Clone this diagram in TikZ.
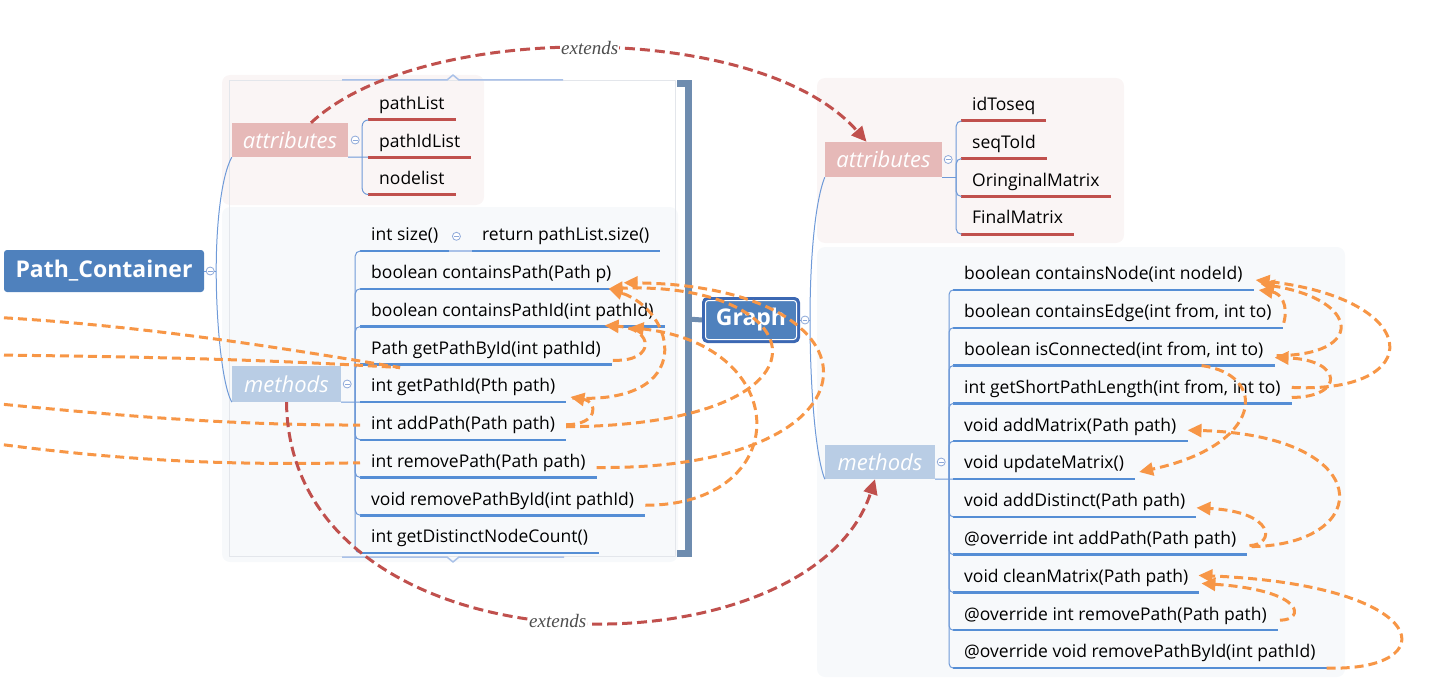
\documentclass[tikz,border=0pt]{standalone}
\usepackage{fontspec}
\setmainfont{Open Sans}
\newfontfamily\relfont{Liberation Serif}
\usetikzlibrary{arrows.meta}
\definecolor{topicblue}{HTML}{4F81BD}
\definecolor{graphedge}{HTML}{3C68B3}
\definecolor{attrpink}{HTML}{E6B9B8}
\definecolor{methblue}{HTML}{B9CDE5}
\definecolor{attrpanel}{HTML}{FAF5F5}
\definecolor{methpanel}{HTML}{F7F9FB}
\definecolor{ulred}{HTML}{C0504D}
\definecolor{ulblue}{HTML}{558ED5}
\definecolor{branchc}{HTML}{6F9AD8}
\definecolor{relorange}{HTML}{F79646}
\definecolor{extred}{HTML}{C0504D}
\definecolor{extgray}{HTML}{4D4D4D}
\definecolor{bracketc}{HTML}{6E8CAF}
\definecolor{foldc}{HTML}{8EA9D9}
\definecolor{framec}{HTML}{E3E6EB}
\definecolor{framebl}{HTML}{A9C1E8}
\begin{document}
\begin{tikzpicture}[x=1pt,y=-1pt,line join=round,
  topic/.style={fill=topicblue,text=white,inner sep=0pt,font=\fontsize{23}{26}\selectfont\bfseries},
  cat/.style={text=white,inner sep=0pt,font=\fontsize{22}{24}\selectfont\itshape},
  item/.style={anchor=south west,inner xsep=11pt,inner ysep=6pt,text height=13pt,text depth=4pt,font=\fontsize{17.5}{20}\selectfont},
  bline/.style={draw=ulblue,line width=2.5pt},
  rline/.style={draw=ulred,line width=3pt},
  branch/.style={draw=branchc,line width=1pt},
  fold/.style={circle,draw=foldc,fill=white,line width=0.8pt,minimum size=8pt,inner sep=0pt,
    path picture={\draw[foldc,line width=0.8pt] ([xshift=1.6pt]path picture bounding box.west) -- ([xshift=-1.6pt]path picture bounding box.east);}},
  rel/.style={draw=relorange,line width=3pt,dash pattern=on 9pt off 5pt,-{Triangle[length=14pt,width=13pt]}},
  ext/.style={draw=extred,line width=3pt,dash pattern=on 10pt off 5pt,-{Triangle[length=15pt,width=14pt]}},
  extlabel/.style={fill=white,inner sep=1pt,text=extgray,font=\relfont\itshape\fontsize{19}{21}\selectfont}]
\useasboundingbox (0,0) rectangle (1431,687);
% panels
\fill[attrpanel,rounded corners=8pt] (222,75) rectangle (484,205);
\fill[methpanel,rounded corners=8pt] (222,207) rectangle (678,562);
\fill[attrpanel,rounded corners=8pt] (817,78) rectangle (1124,243);
\fill[methpanel,rounded corners=8pt] (817,247) rectangle (1345,677);
\draw[framec,line width=1pt] (229,81) rectangle (675,556);
\draw[framebl,line width=1.5pt] (342,80) -- (447,80) -- (453,75) -- (459,80) -- (563,80);
\draw[framebl,line width=1.5pt] (342,557) -- (447,557) -- (453,562) -- (459,557) -- (564,557);

% topics
\node[topic,minimum width=200pt,minimum height=42pt,rounded corners=3pt] (pc) at (104,271) {Path\_Container};
\node[topic,draw=graphedge,line width=3pt,minimum width=95pt,minimum height=43pt,rounded corners=4pt] (graph) at (751,320) {Graph};
\draw[white,line width=1pt,rounded corners=3pt] ([shift={(3.5,-3.5)}]graph.south west) rectangle ([shift={(-3.5,3.5)}]graph.north east);
\draw[bracketc,line width=7pt,line join=miter] (677,84) -- (688,84) -- (688,553.5) -- (677,553.5);
\draw[bracketc,line width=5pt] (688,319) -- (graph.west);

\node[cat,fill=attrpink,minimum width=116pt,minimum height=34pt] (lattr) at (290,140) {attributes};
\node[cat,fill=methblue,minimum width=109pt,minimum height=36pt] (lmeth) at (286.5,384) {methods};
\node[cat,fill=attrpink,minimum width=117pt,minimum height=35pt] (rattr) at (883.5,159.5) {attributes};
\node[cat,fill=methblue,minimum width=110pt,minimum height=34pt] (rmeth) at (880,462) {methods};

% children
\foreach \t [count=\i] in {pathList,pathIdList,nodelist}{
  \node[item] (la\i) at (368,{120+37.25*(\i-1)}) {\t};
  \draw[rline] (la\i.south west) -- (la\i.south east);
}
\foreach \t [count=\i] in {idToseq,seqToId,OringinalMatrix,FinalMatrix}{
  \node[item] (ra\i) at (961,{121+37.7*(\i-1)}) {\t};
  \draw[rline] (ra\i.south west) -- (ra\i.south east);
}
\foreach \t [count=\i] in {int size(),boolean containsPath(Path p),boolean containsPathId(int pathId),
    Path getPathById(int pathId),int getPathId(Pth path),int addPath(Path path),int removePath(Path path),
    void removePathById(int pathId),int getDistinctNodeCount()}{
  \node[item] (lm\i) at (360,{251+37.75*(\i-1)}) {\t};
  \draw[bline] (lm\i.south west) -- (lm\i.south east);
}
\foreach \t [count=\i] in {boolean containsNode(int nodeId),{boolean containsEdge(int from, int to)},
    {boolean isConnected(int from, int to)},{int getShortPathLength(int from, int to)},void addMatrix(Path path),
    void updateMatrix(),void addDistinct(Path path),@override int addPath(Path path),void cleanMatrix(Path path),
    @override int removePath(Path path),@override void removePathById(int pathId)}{
  \node[item] (rm\i) at (953,{290+37.8*(\i-1)}) {\t};
  \draw[bline] (rm\i.south west) -- (rm\i.south east);
}
\node[item,inner xsep=10pt] (ret) at (472,251) {return pathList.size()};
\draw[bline] (ret.south west) -- (ret.south east);
\draw[framebl,line width=1.5pt] (lm1.south east) -- (ret.south west);

% branches
\coordinate (jpc) at ([xshift=12pt]pc.east);
\draw[branch] (pc.east) -- (jpc);
\draw[branch] (jpc) .. controls +(0,-50) and +(-10,18) .. (lattr.south west);
\draw[branch] (jpc) .. controls +(0,50) and +(-10,-18) .. (lmeth.south west);
\coordinate (jla) at ([xshift=14pt]lattr.south east);
\draw[branch] (lattr.south east) -- (la2.south west);
\foreach \i in {1,3} \draw[branch,rounded corners=6pt] (jla) |- (la\i.south west);
\coordinate (jlm) at ([xshift=14pt]lmeth.south east);
\draw[branch] (lmeth.south east) -- (lm5.south west);
\foreach \i in {1,2,3,4,6,7,8,9} \draw[branch,rounded corners=5pt] (jlm) |- (lm\i.south west);
\coordinate (jg) at ([xshift=10pt]graph.east);
\draw[branch] (graph.east) -- (jg);
\draw[branch] (jg) .. controls +(0,-60) and +(-10,25) .. (rattr.south west);
\draw[branch] (jg) .. controls +(0,60) and +(-10,-25) .. (rmeth.south west);
\coordinate (jra) at ([xshift=14pt]rattr.south east);
\draw[branch] (rattr.south east) -- (jra);
\foreach \i in {1,2,3,4} \draw[branch,rounded corners=5pt] (jra) |- (ra\i.south west);
\coordinate (jrm) at ([xshift=14pt]rmeth.south east);
\draw[branch] (rmeth.south east) -- (rm6.south west);
\foreach \i in {1,2,3,4,5,7,8,9,10,11} \draw[branch,rounded corners=4pt] (jrm) |- (rm\i.south west);

\node[fold] (fpc) at ([xshift=6pt]pc.east) {};
\node[fold] (fla) at ([xshift=7pt]lattr.east) {};
\node[fold] (flm) at ([xshift=6pt]lmeth.east) {};
\node[fold] (fsz) at ([xshift=7pt]lm1.east) {};
\node[fold] (fg) at ([xshift=5pt]graph.east) {};
\node[fold] (fra) at ([xshift=6pt]rattr.east) {};
\node[fold] (frm) at ([xshift=6pt]rmeth.east) {};

% relations, left
\coordinate (off1) at (-10,317);
\coordinate (off2) at (-10,355);
\coordinate (off3) at (-10,403);
\coordinate (off4) at (-10,443);
\draw[rel,-] (off1) .. controls +(150,8) and +(-120,-20) .. ([shift={(40,-5)}]lm5.north west);
\draw[rel,-] (off2) .. controls +(200,2) and +(-100,-6) .. ([shift={(40,-5)}]lm5.north west);
\draw[rel,-] (off3) .. controls +(150,15) and +(-120,0) .. (lm6.west);
\draw[rel,-] (off4) .. controls +(150,20) and +(-120,2) .. (lm7.west);
\draw[rel] ([shift={(1,-4)}]lm4.south east) .. controls +(43,2) and +(50,3) .. ([shift={(-60,-1)}]lm3.south east);
\draw[rel] ([shift={(0,-15)}]lm6.south east) .. controls +(32,0) and +(28,5) .. ([shift={(4,-5)}]lm5.south east);
\draw[rel] ([shift={(6,-4)}]lm5.south east) .. controls +(126,7) and +(67,22) .. ([shift={(-14,0)}]lm2.south east);
\draw[rel] ([shift={(0,-10)}]lm7.south east) .. controls +(296,3) and +(268,3) .. ([shift={(1,-6)}]lm2.south east);
\draw[rel] ([shift={(0,-10)}]lm8.south east) .. controls +(149,0) and +(165,18) .. ([shift={(-35,1)}]lm3.south east);
\draw[rel] ([shift={(0,-13)}]lm6.south east) .. controls +(282,-2) and +(207,-8) .. ([shift={(-14,0)}]lm2.south east);
% relations, right
\draw[rel] ([shift={(1,-5)}]rm2.south east) .. controls +(5,-18) and +(22,3) .. ([shift={(5,0)}]rm1.south east);
\draw[rel] ([shift={(2,-10)}]rm3.south east) .. controls +(89,0) and +(100,16) .. ([shift={(7,-6)}]rm1.south east);
\draw[rel] ([shift={(0,-16)}]rm4.south east) .. controls +(134,7) and +(171,20) .. ([shift={(2,-10)}]rm1.south east);
\draw[rel] ([shift={(0,-6)}]rm4.south east) .. controls +(53,0) and +(69,2) .. ([shift={(0,-8)}]rm3.south east);
\draw[rel] ([shift={(-73,0)}]rm3.south east) .. controls +(67,9) and +(125,-27) .. ([shift={(4,-7)}]rm6.south east);
\draw[rel] ([shift={(4,-8)}]rm8.south east) .. controls +(124,-2) and +(190,5) .. ([shift={(0,-11)}]rm5.south east);
\draw[rel] ([shift={(2,-9)}]rm8.south east) .. controls +(26,-1) and +(79,4) .. ([shift={(0,-9)}]rm7.south east);
\draw[rel] ([shift={(2,-10)}]rm10.south east) .. controls +(25,0) and +(105,7) .. ([shift={(2,-9)}]rm9.south east);
\draw[rel] (rm11.south east) .. controls +(118,4) and +(238,10) .. ([shift={(-1,-17)}]rm9.south east);

% extends
\draw[ext] ([xshift=21pt]lattr.north) .. controls +(109,-102) and +(-106.5,-122) .. ([xshift=-17pt]rattr.north)
  node[extlabel,pos=0.5] (ext1) {extends};
\draw[ext] (lmeth.south) .. controls +(3.5,278) and +(-65,202) .. ([xshift=-5pt]rmeth.south)
  node[extlabel,pos=0.5] (ext2) {extends};
\end{tikzpicture}
\end{document}
